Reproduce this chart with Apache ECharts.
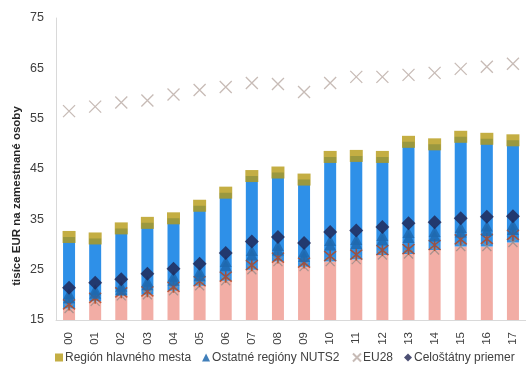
<!DOCTYPE html>
<html>
<head>
<meta charset="utf-8">
<script src="https://cdn.jsdelivr.net/npm/echarts@6/dist/echarts.min.js"></script>
<style>
  html, body { margin: 0; padding: 0; background: #fff; }
  #chart { width: 526px; height: 381px; }
</style>
</head>
<body>
<div id="chart"></div>
<script>
// Years (two-digit labels)
const years = ['00','01','02','03','04','05','06','07','08','09','10','11','12','13','14','15','16','17'];

// Región hlavného mesta (capital region)
const capital = [31.5, 31.2, 33.2, 34.3, 35.2, 37.7, 40.3, 43.6, 44.3, 42.9, 47.4, 47.6, 47.4, 50.4, 49.9, 51.4, 51.0, 50.7];
// Ostatné regióny NUTS2 – two remaining regions
const otherA = [20.2, 21.0, 21.7, 22.7, 23.7, 24.6, 26.6, 28.8, 29.8, 28.5, 30.8, 31.0, 31.8, 32.4, 32.6, 33.4, 33.7, 33.9];
const otherB = [19.4, 20.3, 21.0, 22.0, 22.9, 23.8, 25.8, 27.9, 28.9, 27.6, 29.9, 30.2, 30.9, 31.4, 31.7, 32.5, 32.8, 33.0];
// Lowest region (asterisk marker)
const lowRegion = [18.1, 19.4, 20.5, 20.7, 21.6, 22.7, 23.6, 25.9, 27.4, 26.4, 27.7, 28.0, 28.9, 29.1, 29.9, 31.0, 31.1, 31.9];
// Range minimum (bottom of the range bar)
const rangeMin = [17.3, 18.7, 19.8, 20.0, 20.8, 21.8, 22.8, 25.0, 26.6, 25.6, 26.6, 27.0, 27.9, 28.1, 28.9, 29.6, 29.6, 30.4];
// EU28
const eu28 = [56.5, 57.4, 58.2, 58.6, 59.8, 60.7, 61.3, 62.1, 61.9, 60.3, 62.1, 63.3, 63.3, 63.7, 64.1, 64.9, 65.3, 65.9];
// Celoštátny priemer (national average)
const national = [21.4, 22.4, 23.1, 24.2, 25.2, 26.2, 28.3, 30.6, 31.5, 30.3, 32.5, 32.8, 33.5, 34.2, 34.4, 35.2, 35.5, 35.6];

// Y axis ticks
const yMin = 15, yMax = 75, yStep = 10;

const FONT = 'Liberation Sans, Arial, sans-serif';
const crossPath = 'path://M0,0L10,10M10,0L0,10';
const starPath = 'path://M0,0L10,10M10,0L0,10M5,-1L5,11';

const rangeTop = capital.map((v, i) => +(v - rangeMin[i]).toFixed(2));
const otherData = [];
years.forEach((y, i) => { otherData.push([i, otherA[i]]); otherData.push([i, otherB[i]]); });

const chart = echarts.init(document.getElementById('chart'), null, { renderer: 'canvas' });
chart.setOption({
  animation: false,
  textStyle: { fontFamily: FONT },
  grid: { left: 56, right: 0, top: 18, bottom: 61, containLabel: false },
  xAxis: {
    type: 'category',
    data: years,
    axisLine: { lineStyle: { color: '#d9d9d9', width: 1 } },
    axisTick: { show: false },
    axisLabel: { rotate: 90, color: '#404040', fontSize: 11.5, margin: 12, fontFamily: FONT }
  },
  yAxis: {
    type: 'value',
    min: yMin, max: yMax, interval: yStep,
    axisLine: { show: true, lineStyle: { color: '#d9d9d9', width: 1 } },
    axisTick: { show: false },
    splitLine: { show: false },
    axisLabel: { color: '#404040', fontSize: 12.5, margin: 12, fontFamily: FONT }
  },
  graphic: [{
    type: 'text',
    x: 17, y: 196,
    rotation: Math.PI / 2,
    style: {
      text: 'tisíce EUR na zamestnané osoby',
      font: 'bold 11.5px ' + FONT,
      fill: '#262626',
      textAlign: 'center',
      textVerticalAlign: 'middle'
    }
  }],
  legend: {
    bottom: 12,
    left: 50,
    width: 476,
    itemWidth: 8, itemHeight: 8, itemGap: 11,
    textStyle: { color: '#404040', fontSize: 12, fontFamily: FONT, padding: [0, 0, 0, -3] },
    data: ['Región hlavného mesta', 'Ostatné regióny NUTS2', 'EU28', 'Celoštátny priemer']
  },
  series: [
    {
      name: 'base', type: 'bar', stack: 'r', barWidth: 12,
      itemStyle: { color: '#f2ada5' }, data: rangeMin, silent: true
    },
    {
      name: 'range', type: 'bar', stack: 'r', barWidth: 12,
      itemStyle: { color: '#2e90e8' }, data: rangeTop, silent: true
    },
    {
      name: 'Región hlavného mesta', type: 'scatter', symbol: 'rect', symbolSize: [13, 12],
      itemStyle: { color: '#b59a14' }, data: capital, z: 3
    },
    {
      name: 'EU28', type: 'scatter', symbol: crossPath, symbolSize: 12,
      itemStyle: { color: 'none', borderColor: '#b9aaa4', borderWidth: 1.3 }, data: eu28, z: 3
    },
    {
      name: 'range min', type: 'scatter', symbol: crossPath, symbolSize: 9,
      itemStyle: { color: 'none', borderColor: '#9a8c88', borderWidth: 1.3 }, data: rangeMin, z: 3
    },
    {
      name: 'low region', type: 'scatter', symbol: starPath, symbolSize: 12,
      itemStyle: { color: 'none', borderColor: '#b5441c', borderWidth: 1.6 }, data: lowRegion, z: 4
    },
    {
      name: 'Ostatné regióny NUTS2', type: 'scatter', symbol: 'triangle', symbolSize: [12, 11],
      itemStyle: { color: '#1e68ae', opacity: 0.85 }, data: otherData, z: 4
    },
    {
      name: 'Celoštátny priemer', type: 'scatter', symbol: 'diamond', symbolSize: [14, 14],
      itemStyle: { color: '#1f2350' }, data: national, z: 5
    }
  ]
});
</script>
</body>
</html>
